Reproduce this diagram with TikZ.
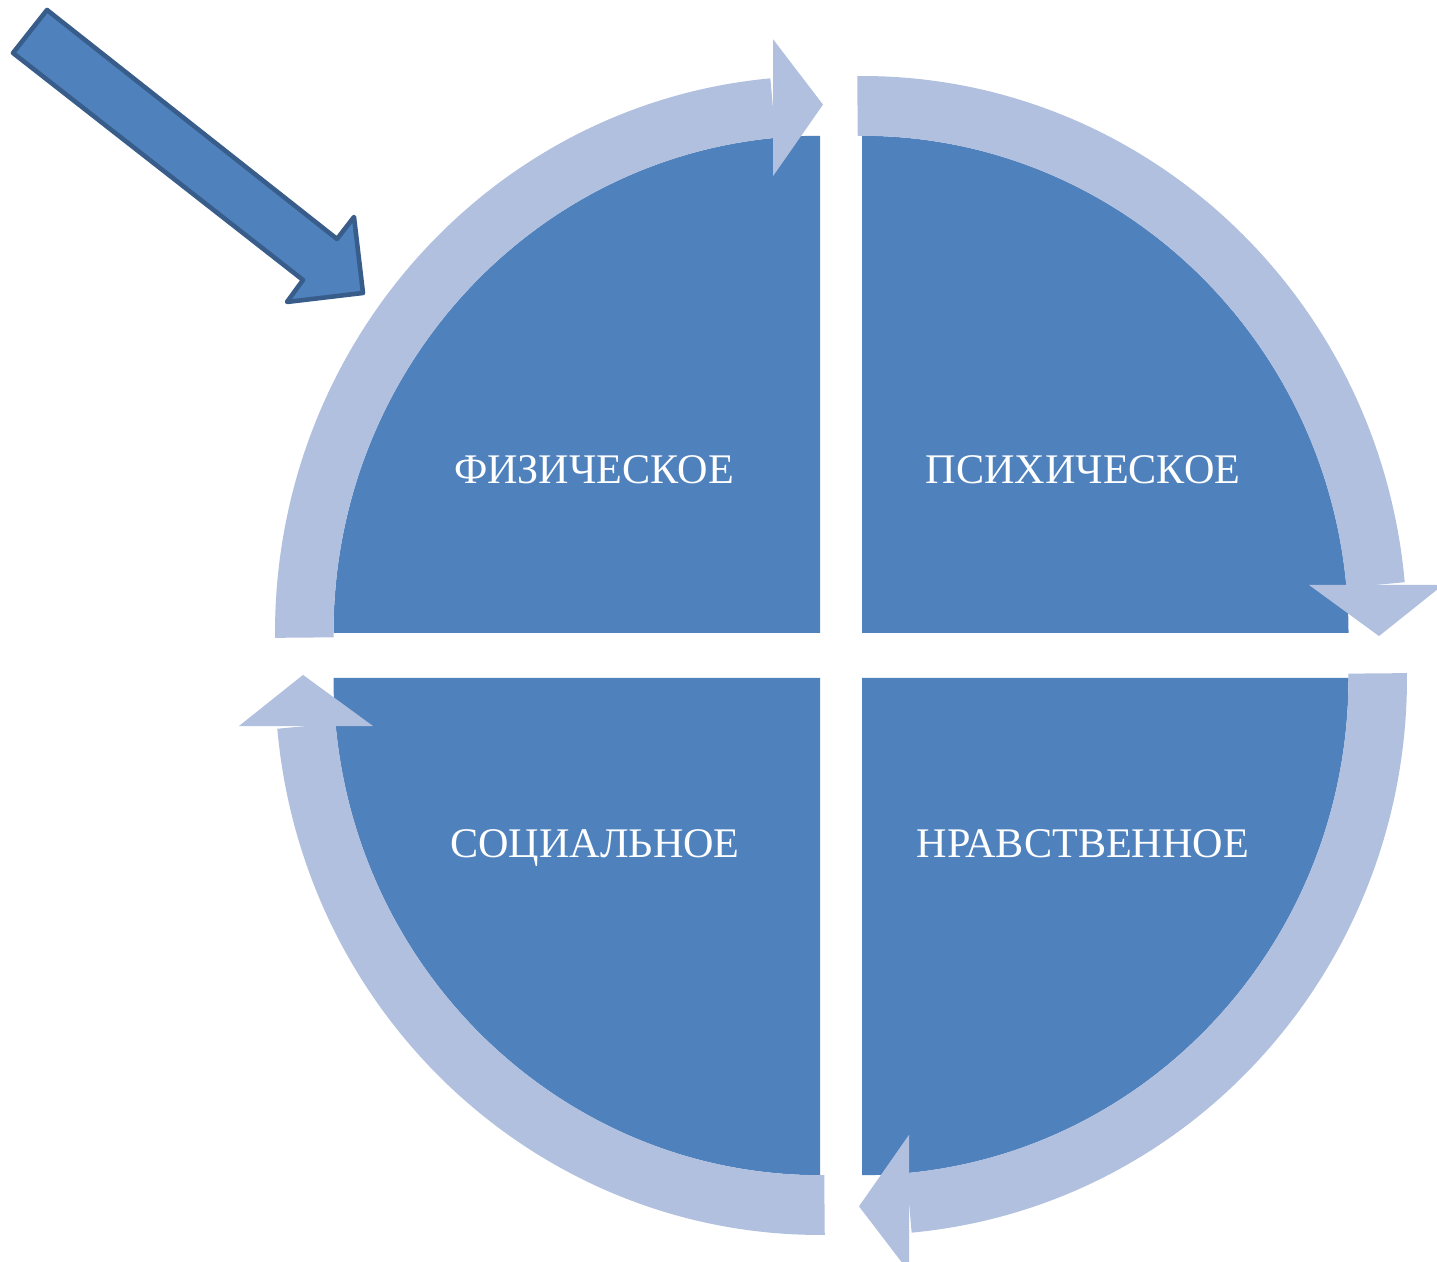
\documentclass[tikz,border=0pt]{standalone}
\usepackage{fontspec}
\setmainfont{Liberation Serif}
\usetikzlibrary{arrows.meta,positioning}
\definecolor{sector}{HTML}{4F81BD}
\definecolor{ring}{HTML}{B0C0DE}
\definecolor{edge}{HTML}{385D8A}
\tikzset{
  quad/.style={fill=sector, draw=none},
  band/.style={fill=ring, draw=none},
  lbl/.style={font=\fontsize{12}{14}\selectfont, text=white, text height=8pt,
              text depth=0pt, inner sep=0pt},
  pointer/.style={fill=sector, draw=edge, line width=1.3pt, line join=round},
}

\begin{document}
\begin{tikzpicture}
  \useasboundingbox (0,0) rectangle (14.37,12.62);
  % four quarters, each with its ring arrow running clockwise
  \foreach \cx/\cy/\rot in {8.20/6.29/0, 8.62/6.29/-90, 8.62/5.84/180, 8.20/5.84/90}{
    \begin{scope}[shift={(\cx,\cy)}, yscale=1.022, rotate=\rot]
      \fill[quad] (0,0) -- (180:4.865) arc[start angle=180, end angle=90, radius=4.865] -- cycle;
      \fill[band] (180.5:4.865) arc[start angle=180.5, end angle=95.23, radius=4.865]
        -- (95.23:5.45) arc[start angle=95.23, end angle=180.5, radius=5.45] -- cycle;
      \fill[band] (-0.47,4.47) -- (0.03,5.17) -- (-0.47,5.81) -- cycle;
    \end{scope}
  }
  \node[lbl] (phys)  at (5.94,7.93)  {ФИЗИЧЕСКОЕ};
  \node[lbl] (psych) at (10.83,7.93) {ПСИХИЧЕСКОЕ};
  \node[lbl] (soc)   at (5.95,4.19)  {СОЦИАЛЬНОЕ};
  \node[lbl] (moral) at (10.83,4.19) {НРАВСТВЕННОЕ};
  % entry arrow
  \draw[pointer] (0.47,12.52) -- (3.37,10.23) -- (3.54,10.45) -- (3.63,9.69)
    -- (2.87,9.60) -- (3.03,9.82) -- (0.13,12.09) -- cycle;
\end{tikzpicture}
\end{document}
